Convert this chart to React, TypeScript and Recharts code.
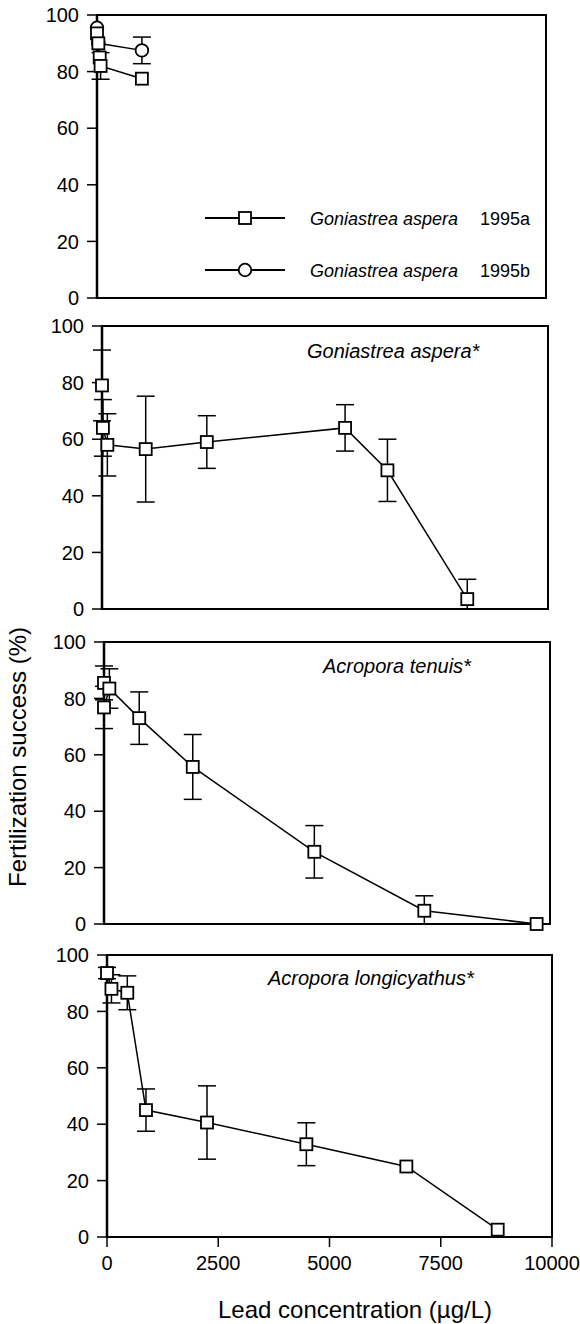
import { ScatterChart, Scatter, XAxis, YAxis, ErrorBar, ReferenceArea } from 'recharts'

const FONT = '"Liberation Sans", Arial, Helvetica, sans-serif'

const xTicks = [0, 2500, 5000, 7500, 10000]
const yTicks = [0, 20, 40, 60, 80, 100]
const X_DOMAIN: [number, number] = [0, 10000]
const Y_DOMAIN: [number, number] = [0, 100]

// Goniastrea aspera 1995a (squares) / 1995b (circles)
const ga95aConc = [0, 30, 60, 80, 1000]
const ga95aFert = [93.5, 90, 85, 82, 77.5]
const ga95aErr = [0, 0, 0, 4.7, 0]

const ga95bConc = [0, 30, 1000]
const ga95bFert = [95.5, 90, 87.5]
const ga95bErr = [0, 0, 4.7]

const legendSpecies = ['Goniastrea aspera', 'Goniastrea aspera']
const legendYears = ['1995a', '1995b']

// Goniastrea aspera*
const gaConc = [0, 20, 120, 980, 2350, 5450, 6400, 8190]
const gaFert = [79, 64, 58, 56.5, 59, 64, 49, 3.5]
const gaErr = [12.5, 10, 11, 18.7, 9.3, 8.2, 11, [3.5, 7]]

// Acropora tenuis*
const atConc = [0, 0, 120, 790, 1990, 4716, 7182, 9700]
const atFert = [85.5, 76.8, 83.5, 73, 55.7, 25.6, 4.7, 0]
const atErr = [6, 7.5, 7, 9.3, 11.5, 9.3, [4.7, 5.3], 0]

// Acropora longicyathus*
const alConc = [0, 100, 456, 876, 2247, 4480, 6727, 8780]
const alFert = [93.6, 88, 86.6, 45, 40.6, 32.9, 25, 2.6]
const alErr = [2, 5, 6, 7.5, 13, 7.6, 0, 0]

const panelTitles = ['', 'Goniastrea aspera*', 'Acropora tenuis*', 'Acropora longicyathus*']

const toPoints = (conc: number[], fert: number[], err: any[]) =>
  conc.map((x, i) => ({ x, y: fert[i], err: err[i] }))

const squareShape = (p: any) => (
  <rect x={p.cx - 6} y={p.cy - 6} width={12} height={12} fill="#fff" stroke="#000" strokeWidth={1.8} />
)
const circleShape = (p: any) => (
  <circle cx={p.cx} cy={p.cy} r={6.3} fill="#fff" stroke="#000" strokeWidth={1.8} />
)

const tickStyle = { fontSize: 20, fill: '#000', fontFamily: FONT }

interface Series {
  name: string
  marker: 'square' | 'circle'
  data: { x: number; y: number; err: any }[]
}

interface Box {
  left: number
  right: number
  top: number
  bottom: number
}

function Panel({ box, series, showX }: { box: Box; series: Series[]; showX?: boolean }) {
  const mt = 12
  const xh = showX ? 46 : 0
  const mb = showX ? 2 : 10
  return (
    <div style={{ position: 'absolute', left: 0, top: box.top - mt }}>
      <ScatterChart
        width={580}
        height={mt + box.bottom - box.top + xh + mb}
        margin={{ top: mt, right: 580 - box.right, bottom: mb, left: box.left - 60 }}
        style={{ fontFamily: FONT }}
      >
        <XAxis
          type="number"
          dataKey="x"
          domain={X_DOMAIN}
          ticks={showX ? xTicks : []}
          tick={showX ? tickStyle : false}
          tickLine={showX ? { stroke: '#000', strokeWidth: 1.5 } : false}
          tickSize={10}
          tickMargin={9}
          height={xh}
          axisLine={{ stroke: '#000', strokeWidth: 2 }}
          interval={0}
        />
        <YAxis
          type="number"
          dataKey="y"
          domain={Y_DOMAIN}
          ticks={yTicks}
          width={60}
          tickSize={10}
          tickMargin={8}
          tick={tickStyle}
          tickLine={{ stroke: '#000', strokeWidth: 1.5 }}
          axisLine={{ stroke: '#000', strokeWidth: 2.5 }}
          interval={0}
        />
        <ReferenceArea
          x1={X_DOMAIN[0]}
          x2={X_DOMAIN[1]}
          y1={Y_DOMAIN[0]}
          y2={Y_DOMAIN[1]}
          fill="none"
          fillOpacity={0}
          stroke="#000"
          strokeWidth={2}
          ifOverflow="visible"
        />
        {series.map((s) => (
          <Scatter
            key={s.name}
            name={s.name}
            data={s.data}
            line={{ stroke: '#000', strokeWidth: 1.5 }}
            lineType="joint"
            shape={s.marker === 'circle' ? circleShape : squareShape}
            isAnimationActive={false}
          >
            <ErrorBar dataKey="err" direction="y" width={9} stroke="#000" strokeWidth={1.5} />
          </Scatter>
        ))}
      </ScatterChart>
    </div>
  )
}

function LegendRow({ marker, species, year, y }: { marker: 'square' | 'circle'; species: string; year: string; y: number }) {
  return (
    <>
      <svg style={{ position: 'absolute', left: 205, top: y - 8 }} width={80} height={16}>
        <line x1={0} x2={80} y1={8} y2={8} stroke="#000" strokeWidth={1.8} />
        {marker === 'square'
          ? squareShape({ cx: 40, cy: 8 })
          : circleShape({ cx: 40, cy: 8 })}
      </svg>
      <div style={{ position: 'absolute', left: 310, top: y - 8, fontSize: 18, lineHeight: 1, fontStyle: 'italic' }}>
        {species}
      </div>
      <div style={{ position: 'absolute', left: 480, top: y - 8, fontSize: 18, lineHeight: 1 }}>{year}</div>
    </>
  )
}

export default function App() {
  const titleStyle = { position: 'absolute' as const, fontSize: 20, lineHeight: 1, fontStyle: 'italic' }
  return (
    <div style={{ position: 'absolute', left: 0, top: 0, width: 580, height: 1324, background: '#fff', fontFamily: FONT, color: '#000' }}>
      <Panel
        box={{ left: 97, right: 546, top: 15, bottom: 298 }}
        series={[
          { name: '1995b', marker: 'circle', data: toPoints(ga95bConc, ga95bFert, ga95bErr) },
          { name: '1995a', marker: 'square', data: toPoints(ga95aConc, ga95aFert, ga95aErr) }
        ]}
      />
      <Panel
        box={{ left: 102, right: 548, top: 326, bottom: 609 }}
        series={[{ name: 'ga', marker: 'square', data: toPoints(gaConc, gaFert, gaErr) }]}
      />
      <Panel
        box={{ left: 104, right: 550, top: 642, bottom: 924 }}
        series={[{ name: 'at', marker: 'square', data: toPoints(atConc, atFert, atErr) }]}
      />
      <Panel
        box={{ left: 107, right: 552, top: 955, bottom: 1237 }}
        series={[{ name: 'al', marker: 'square', data: toPoints(alConc, alFert, alErr) }]}
        showX
      />

      <LegendRow marker="square" species={legendSpecies[0]} year={legendYears[0]} y={218} />
      <LegendRow marker="circle" species={legendSpecies[1]} year={legendYears[1]} y={270} />

      <div style={{ ...titleStyle, left: 307, top: 341 }}>{panelTitles[1]}</div>
      <div style={{ ...titleStyle, left: 323, top: 656 }}>{panelTitles[2]}</div>
      <div style={{ ...titleStyle, left: 268, top: 968 }}>{panelTitles[3]}</div>

      <div style={{ position: 'absolute', left: 18, top: 757, width: 0, height: 0, transform: 'rotate(-90deg)' }}>
        <div style={{ position: 'absolute', transform: 'translate(-50%, -50%)', whiteSpace: 'nowrap', fontSize: 24, lineHeight: 1 }}>
          Fertilization success (%)
        </div>
      </div>
      <div style={{ position: 'absolute', left: 355, top: 1298, transform: 'translateX(-50%)', whiteSpace: 'nowrap', fontSize: 24, lineHeight: 1 }}>
        Lead concentration (µg/L)
      </div>
    </div>
  )
}
